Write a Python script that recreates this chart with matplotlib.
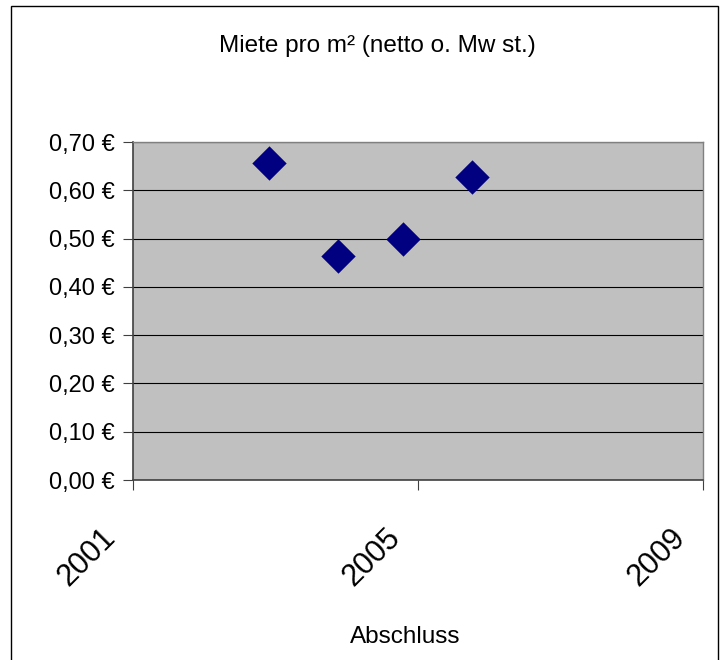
import matplotlib
matplotlib.use("Agg")
import matplotlib.pyplot as plt
import matplotlib.transforms as mtransforms
from matplotlib.patches import Rectangle

# data (decimal years)
years = [2002.91, 2003.87, 2004.79, 2005.76]
rent = [0.656, 0.464, 0.499, 0.627]
y_ticks = [0.0, 0.1, 0.2, 0.3, 0.4, 0.5, 0.6, 0.7]
x_ticks = [2001, 2005, 2009]

plt.rcParams["font.family"] = ["Liberation Sans", "DejaVu Sans"]

W, H = 728, 660
fig = plt.figure(figsize=(W / 100, H / 100), dpi=100)
ax = fig.add_axes([133.3 / W, 1 - 480 / H, (702.7 - 133.3) / W, (480 - 142) / H])

# outer chart border (runs off the bottom of the picture)
fig.patches.append(Rectangle((10.5 / W, -0.05), (718 - 10.5) / W, 1.05 - 6 / H,
                             transform=fig.transFigure, fill=False,
                             edgecolor="black", linewidth=1.0))

ax.set_facecolor("#C0C0C0")
ax.scatter(years, rent, marker="D", s=17.5 ** 2, color="#000080", linewidths=0, zorder=3)

ax.set_xlim(2001, 2009)
ax.set_ylim(0, 0.7)
ax.set_yticks(y_ticks)
ax.set_yticklabels([f"{v:.2f} €".replace(".", ",") for v in y_ticks], fontsize=17)
ax.set_xticks(x_ticks)
ax.set_xticklabels([str(x) for x in x_ticks], fontsize=22, rotation=45,
                   ha="center", va="top")
ax.tick_params(axis="x", length=7, width=0.8, color="#404040", pad=23.5)
ax.tick_params(axis="y", length=7, width=0.8, color="#404040", pad=6)

# rotated year labels sit left of their ticks
shift = mtransforms.ScaledTranslation(-46 / 100, 0, fig.dpi_scale_trans)
for lbl in ax.get_xticklabels():
    lbl.set_transform(lbl.get_transform() + shift)

ax.grid(axis="y", color="black", linewidth=0.8)
ax.set_axisbelow(True)

for side in ["top", "right"]:
    ax.spines[side].set_color("#808080")
    ax.spines[side].set_linewidth(1.0)
ax.spines["left"].set_color("#404040")
ax.spines["left"].set_linewidth(1.2)
ax.spines["bottom"].set_color("#404040")
ax.spines["bottom"].set_linewidth(1.2)

fig.text(377.8 / W, 1 - 51.7 / H, "Miete pro m² (netto o. Mw st.)",
         ha="center", va="baseline", fontsize=17.5)
fig.text(405.7 / W, 1 - 643.3 / H, "Abschluss", ha="center", va="baseline", fontsize=17.5)

fig.savefig("out.png", dpi=100)
